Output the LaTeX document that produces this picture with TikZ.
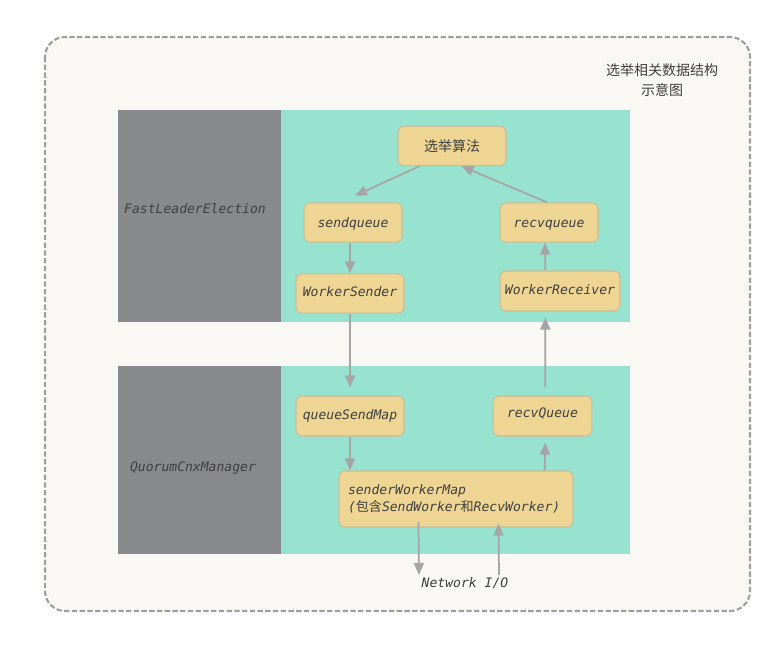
\documentclass[tikz,border=0pt]{standalone}
\usepackage{fontspec}
\newfontfamily\cjk{Noto Sans CJK SC}
\newfontfamily\mono{DejaVu Sans Mono}
\usetikzlibrary{arrows.meta,calc}
\definecolor{bgfill}{HTML}{F9F8F5}
\definecolor{bgline}{HTML}{A39E9E}
\definecolor{grayband}{HTML}{88898B}
\definecolor{tealband}{HTML}{97E3CF}
\definecolor{boxfill}{HTML}{EED594}
\definecolor{boxline}{HTML}{C9BC98}
\definecolor{arrowc}{HTML}{A5A5A5}
\definecolor{txt}{HTML}{3F3F3F}
\tikzset{
  box/.style={draw=boxline, fill=boxfill, rounded corners=4.5pt, line width=0.8pt, inner sep=0pt, text=txt, font=\mono\itshape\fontsize{9.8}{12.5}\selectfont},
  onebox/.style={box, text height=7pt, text depth=1.8pt},
  conn/.style={draw=arrowc, line width=1.3pt, -{Triangle[length=9pt,width=7.5pt]}},
  lbl/.style={text=txt, font=\mono\itshape\fontsize{9.8}{12}\selectfont, inner sep=0pt},
}
\begin{document}
\begin{tikzpicture}[x=0.75pt,y=-0.75pt]
\useasboundingbox (0,0) rectangle (784,646);
\draw[bgline, fill=bgfill, line width=1.6pt, dash pattern=on 4pt off 1.8pt, rounded corners=15pt] (45,37) rectangle (750,611);
\node[text=txt, font=\cjk\fontsize{10.5}{15}\selectfont, align=center, inner sep=0pt] (title) at (662,80) {选举相关数据结构\\示意图};
% bands
\fill[grayband] (118,110) rectangle (281,322);
\fill[tealband] (281,110) rectangle (630,322);
\fill[grayband] (118,366) rectangle (281,554);
\fill[tealband] (281,366) rectangle (630,554);
\node[lbl] (fle) at (195,209) {FastLeaderElection};
\node[lbl] (qcm) at (193,468) {QuorumCnxManager};
% boxes
\node[box, minimum width=81pt, minimum height=29.5pt, font=\cjk\fontsize{10.5}{12}\selectfont] (alg) at (452,146) {选举算法};
\node[onebox, minimum width=73.5pt, minimum height=29.5pt] (sq) at (353,222.5) {\raisebox{-0.8pt}{sendqueue}};
\node[onebox, minimum width=73.5pt, minimum height=29.5pt] (rq) at (549,222.5) {\raisebox{-0.8pt}{recvqueue}};
\node[onebox, minimum width=81pt, minimum height=29.5pt] (ws) at (350,293.5) {WorkerSender};
\node[onebox, minimum width=90pt, minimum height=30pt] (wr) at (560,291) {WorkerReceiver};
\node[onebox, minimum width=81pt, minimum height=30pt] (qsm) at (350,416) {queueSendMap};
\node[onebox, minimum width=74pt, minimum height=30pt] (rQ) at (542.5,416) {\raisebox{1.2pt}{recvQueue}};
\node[box, minimum width=175.5pt, minimum height=42pt, align=left, text width=162pt] (swm) at (456,499) {senderWorkerMap\\({\cjk 包含}SendWorker{\cjk 和}RecvWorker)};
\node[lbl] (nio) at (465,583) {Network I/O};
% connectors
\coordinate (algL) at ($(alg.south west)+(16.5pt,0)$);
\coordinate (algR) at ($(alg.south west)+(48pt,0)$);
\draw[conn] (algL) -- ($(sq.north)+(1.5pt,5pt)$);
\draw[conn] ($(rq.north)+(-1.5pt,0)$) -- (algR);
\draw[conn] (ws.north |- sq.south) -- (ws.north);
\draw[conn] ($(wr.north)+(-11pt,0)$) -- ($(rq.south)+(-3pt,0)$);
\draw[conn] (ws.south) -- ($(qsm.north)+(0,6pt)$);
\draw[conn] ($(rQ.north)+(2pt,6pt)$) -- ($(wr.south)+(-11pt,-4.5pt)$);
\draw[conn] (qsm.south) -- (qsm.south |- swm.north);
\draw[conn] ($(swm.north)+(66.5pt,0)$) -- ($(rQ.south)+(2pt,-4.5pt)$);
\coordinate (nioL) at (419,575);
\coordinate (nioR) at (499,575);
\draw[conn] ($(swm.south west)+(60pt,4pt)$) -- (nioL);
\draw[conn] (nioR) -- ($(swm.south west)+(120pt,3pt)$);
\end{tikzpicture}
\end{document}
